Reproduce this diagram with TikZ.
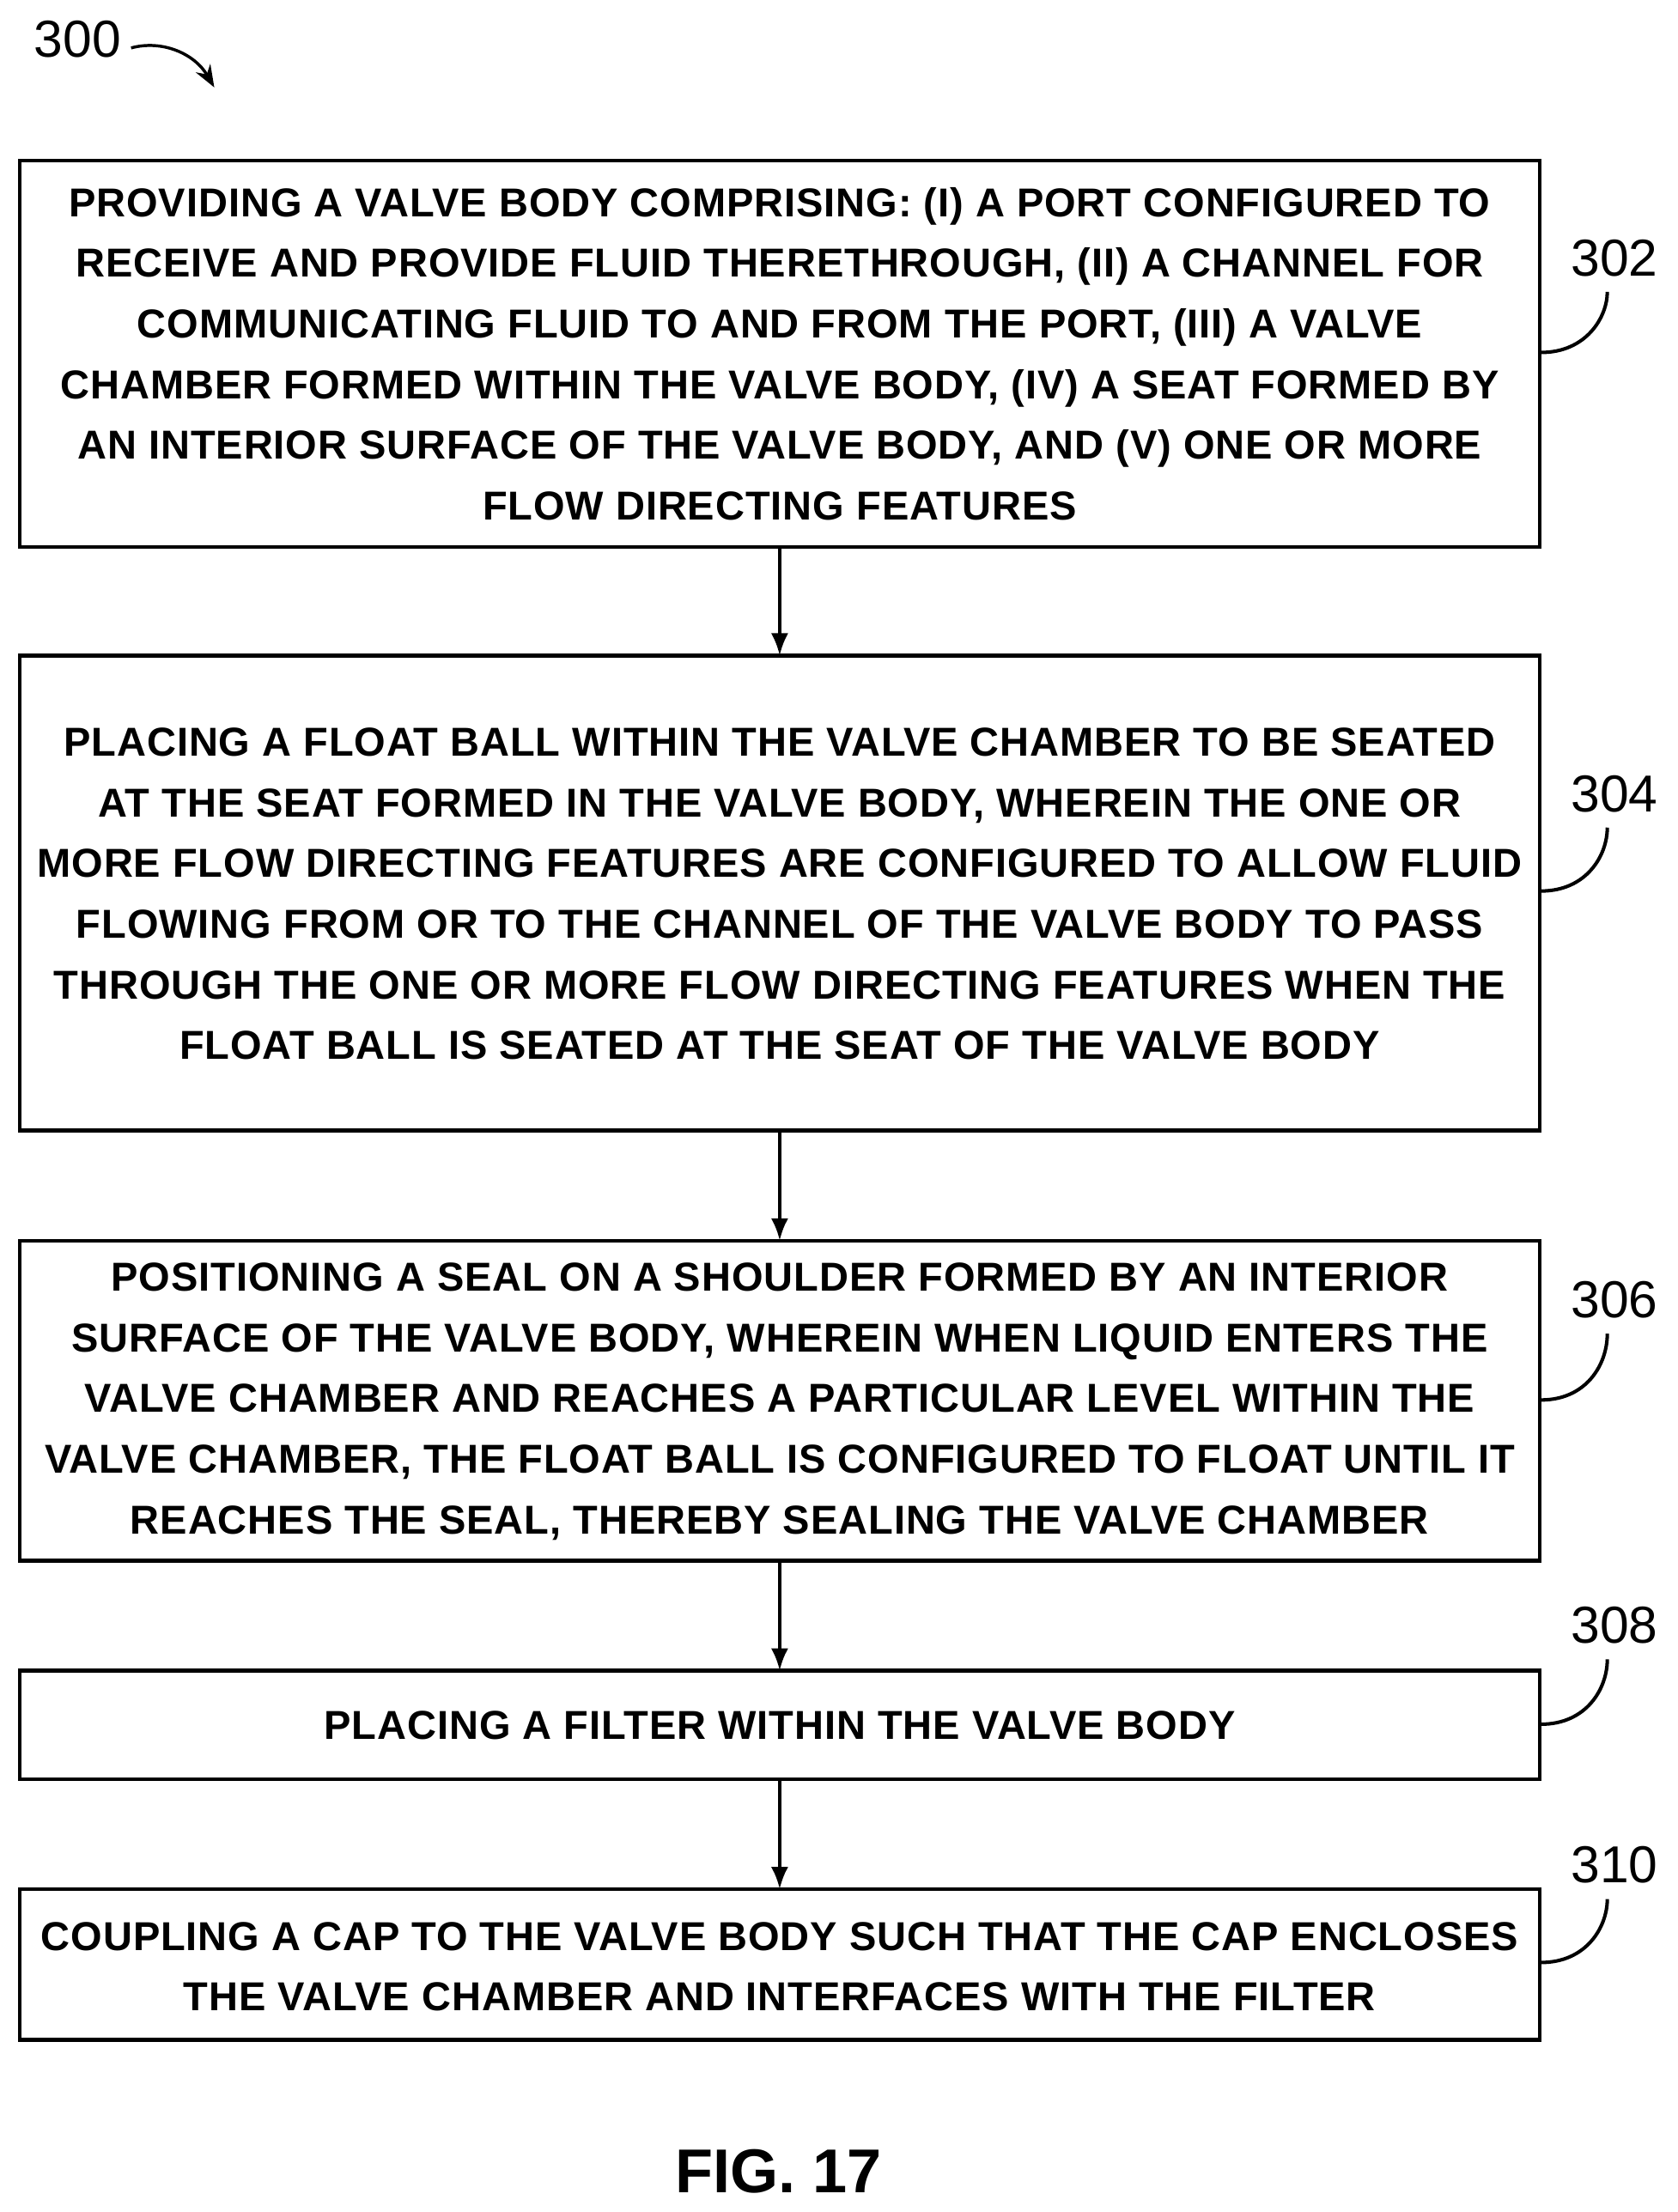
\documentclass[tikz,border=0pt]{standalone}
\usetikzlibrary{arrows.meta}
\usepackage{fontspec}
\setmainfont{Liberation Sans}
\begin{document}
\begin{tikzpicture}[x=0.02cm,y=-0.02cm,
 box/.style={draw,line width=1.6pt,inner sep=0pt},
 txt/.style={align=center,font=\bfseries\fontsize{16.3}{24.5}\selectfont\addfontfeature{LetterSpace=2}},
 lab/.style={font=\fontsize{21}{24}\selectfont},
 arr/.style={-{Latex[length=9pt,width=7pt]},line width=1.4pt},
 lead/.style={line width=1.4pt}]
\useasboundingbox (0,0) rectangle (1190,1569);
\draw[box] (14,114) rectangle (1092,388);
\node[txt] (t1) at (553,251) {PROVIDING A VALVE BODY COMPRISING: (I) A PORT CONFIGURED TO\\RECEIVE AND PROVIDE FLUID THERETHROUGH, (II) A CHANNEL FOR\\COMMUNICATING FLUID TO AND FROM THE PORT, (III) A VALVE\\CHAMBER FORMED WITHIN THE VALVE BODY, (IV) A SEAT FORMED BY\\AN INTERIOR SURFACE OF THE VALVE BODY, AND (V) ONE OR MORE\\FLOW DIRECTING FEATURES};
\draw[box] (14,465) rectangle (1092,802);
\node[txt] (t2) at (553,634) {PLACING A FLOAT BALL WITHIN THE VALVE CHAMBER TO BE SEATED\\AT THE SEAT FORMED IN THE VALVE BODY, WHEREIN THE ONE OR\\MORE FLOW DIRECTING FEATURES ARE CONFIGURED TO ALLOW FLUID\\FLOWING FROM OR TO THE CHANNEL OF THE VALVE BODY TO PASS\\THROUGH THE ONE OR MORE FLOW DIRECTING FEATURES WHEN THE\\FLOAT BALL IS SEATED AT THE SEAT OF THE VALVE BODY};
\draw[box] (14,880) rectangle (1092,1107);
\node[txt] (t3) at (553,994) {POSITIONING A SEAL ON A SHOULDER FORMED BY AN INTERIOR\\SURFACE OF THE VALVE BODY, WHEREIN WHEN LIQUID ENTERS THE\\VALVE CHAMBER AND REACHES A PARTICULAR LEVEL WITHIN THE\\VALVE CHAMBER, THE FLOAT BALL IS CONFIGURED TO FLOAT UNTIL IT\\REACHES THE SEAL, THEREBY SEALING THE VALVE CHAMBER};
\draw[box] (14,1185) rectangle (1092,1262);
\node[txt] (t4) at (553,1224) {PLACING A FILTER WITHIN THE VALVE BODY};
\draw[box] (14,1340) rectangle (1092,1447);
\node[txt] (t5) at (553,1395) {COUPLING A CAP TO THE VALVE BODY SUCH THAT THE CAP ENCLOSES\\THE VALVE CHAMBER AND INTERFACES WITH THE FILTER};
\coordinate (b1) at (553,388); \coordinate (a2) at (553,465);
\coordinate (b2) at (553,802); \coordinate (a3) at (553,880);
\coordinate (b3) at (553,1107); \coordinate (a4) at (553,1185);
\coordinate (b4) at (553,1262); \coordinate (a5) at (553,1340);
\draw[arr] (b1)--(a2); \draw[arr] (b2)--(a3); \draw[arr] (b3)--(a4); \draw[arr] (b4)--(a5);
\foreach \n/\ly/\ey in {302/183/250,304/563/632,306/922/993,308/1153/1223,310/1323/1392}{
 \node[lab] (l\n) at (1145,\ly) {\n};
 \coordinate (e\n) at (1093,\ey);
 \draw[lead] (e\n) .. controls (1125,\ey) and (1140,\ey-25) .. (1140,\ly+24);
}
\node[lab] (l300) at (55,28) {300};
\coordinate (p300) at (152,62);
\draw[-{Stealth[length=9pt]},line width=1.2pt] (93,34) .. controls (115,28) and (138,38) .. (p300);
\node[font=\bfseries\fontsize{25}{28}\selectfont] (fig) at (552,1540) {FIG. 17};
\end{tikzpicture}
\end{document}
